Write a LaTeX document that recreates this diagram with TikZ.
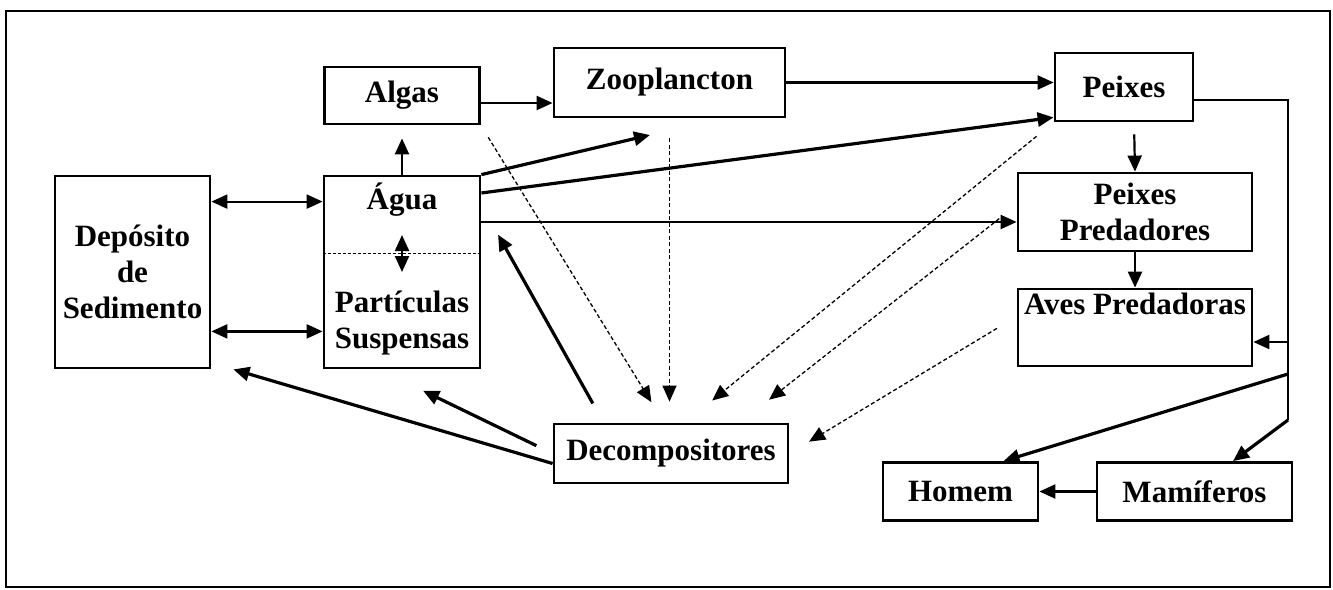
\documentclass[tikz,border=0pt]{standalone}
\usepackage{fontspec}
\setmainfont{Liberation Serif}
\usetikzlibrary{arrows.meta}
\begin{document}
\begin{tikzpicture}[x=1pt, y=-1pt, font=\fontsize{31}{36}\selectfont\bfseries, >={Triangle[length=16pt, width=14pt]},
	box/.style = {draw, line width=2.8pt, align=center, inner sep=0pt},
	flow/.style = {line width=2.2pt, ->},
	heavy/.style = {line width=3.2pt, ->},
	waste/.style = {line width=1.3pt, dash pattern=on 4pt off 2.5pt, ->}]
	\useasboundingbox (0,0) rectangle (1333,589);
	\draw[line width=2.8pt] (6,11) rectangle (1330,587);
	\node[box, minimum width=155pt, minimum height=192pt] (dep) at (132.5,272) {Depósito\\de\\Sedimento};
	\node[box, minimum width=156pt, minimum height=192pt] (agua) at (402,272) {};
	\node (aguatxt) at (402,200) {Água};
	\node[align=center] (part) at (402,323) {Partículas\\Suspensas};
	\node[box, minimum width=155pt, minimum height=57pt] (algas) at (402,95.5) {Algas};
	\node[box, minimum width=231pt, minimum height=69pt] (zoo) at (669.5,82.5) {Zooplancton};
	\node[box, minimum width=138pt, minimum height=68pt] (peixes) at (1124,87) {Peixes};
	\node[box, minimum width=234pt, minimum height=78pt] (pp) at (1135,212) {Peixes\\Predadores};
	\node[box, minimum width=234pt, minimum height=77pt] (aves) at (1135,327.5) {};
	\node[anchor=north, inner sep=5pt] (avestxt) at (aves.north) {Aves Predadoras};
	\node[box, minimum width=234pt, minimum height=59pt] (decomp) at (671,453.5) {Decompositores};
	\node[box, minimum width=155pt, minimum height=58pt] (homem) at (960.5,491.5) {Homem};
	\node[box, minimum width=195pt, minimum height=58pt] (mam) at (1194.5,491.5) {Mamíferos};
	\coordinate (zooin) at (650,135);
	\coordinate (b1) at (1288,100);
	\coordinate (b2) at (1288,342);
	\coordinate (b3) at (1288,374);
	\coordinate (b4) at (1288,420);
	\draw[line width=1pt, densely dashed] ([yshift=19pt]agua.west) -- ([yshift=19pt]agua.east);
	\draw[flow, <->] ([yshift=-27pt]dep.north east) -- ([yshift=-27pt]agua.north west);
	\draw[flow, <->] ([yshift=38pt]dep.south east) -- ([yshift=38pt]agua.south west);
	\draw[flow, <->] ([yshift=37pt]agua.center) -- (agua.center);
	\draw[flow, shorten >=13pt] (agua.north) -- (algas.south);
	\draw[flow] ([yshift=-7.5pt]algas.east) -- ([yshift=-20.5pt]zoo.west);
	\draw[flow] (zoo.east) -- ([yshift=4.5pt]peixes.west);
	\draw[flow, shorten <=12pt] ([xshift=10pt]peixes.south) -- (pp.north);
	\draw[flow] (pp.south) -- (aves.north);
	\draw[flow] ([yshift=50pt]agua.east) -- ([yshift=-10pt]pp.west);
	\draw[heavy] ([yshift=79pt]agua.east) -- ([yshift=5pt]peixes.south west);
	\draw[heavy] (agua.north east) -- (zooin);
	\draw[heavy, shorten <=22pt, shorten >=34pt] ([xshift=51pt]decomp.north west) -- ([yshift=67pt]agua.east);
	\draw[heavy, shorten <=18pt, shorten >=49pt] (decomp.west) -- ([xshift=-23pt]agua.south);
	\draw[heavy] ([yshift=-10pt]decomp.west) -- ([xshift=22pt]dep.south east);
	\draw[waste, shorten <=14pt, shorten >=24pt] (algas.south east) -- ([xshift=-7pt]decomp.north);
	\draw[waste, shorten <=20pt, shorten >=21pt] (zoo.south) -- ([xshift=-1.5pt]decomp.north);
	\draw[waste, shorten <=22pt, shorten >=35pt] (peixes.south west) -- ([xshift=14pt]decomp.north);
	\draw[waste, shorten <=22pt, shorten >=37pt] ([yshift=7pt]pp.west) -- ([xshift=69pt]decomp.north);
	\draw[waste, shorten <=23pt, shorten >=23pt] ([yshift=11pt]aves.west) -- (decomp.east);
	\draw[line width=2.8pt] ([yshift=-13pt]peixes.east) -- (b1) -- (b4);
	\draw[flow] (b2) -- (b2 -| aves.east);
	\draw[heavy] (b3) -- ([xshift=43pt]homem.north);
	\draw[heavy] (b4) -- ([xshift=38.5pt]mam.north);
	\draw[flow] (mam.west) -- (homem.east);
\end{tikzpicture}
\end{document}
